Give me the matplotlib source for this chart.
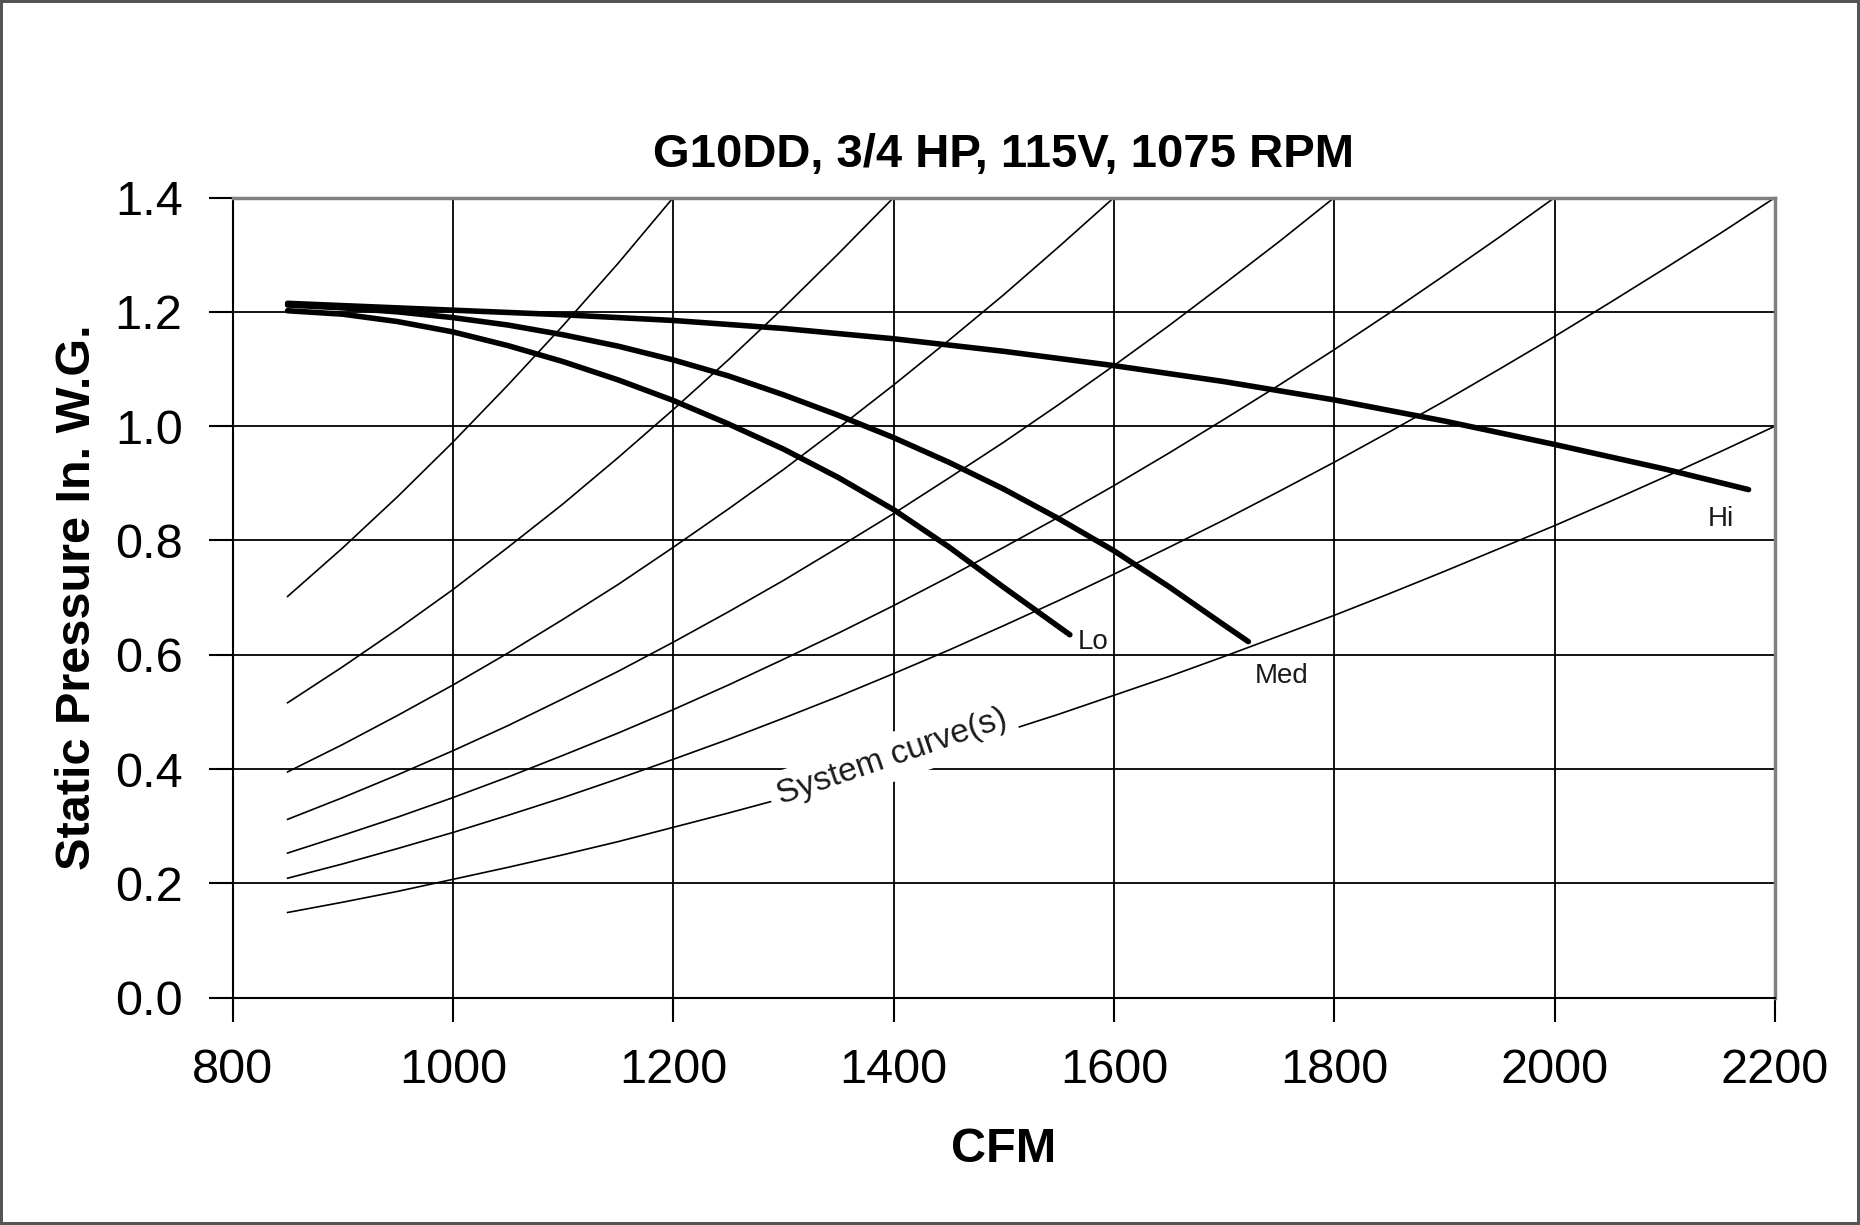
import matplotlib
matplotlib.use("Agg")
import matplotlib.pyplot as plt

plt.rcParams['font.family'] = ['Liberation Sans', 'DejaVu Sans']

# CFM points the system curves were read at (every 50 CFM)
sys_cfm = [850, 900, 950, 1000, 1050, 1100, 1150, 1200, 1250, 1300, 1350, 1400, 1450, 1500,
           1550, 1600, 1650, 1700, 1750, 1800, 1850, 1900, 1950, 2000, 2050, 2100, 2150, 2200]

# system curves (static pressure, in. W.G.), each read until it leaves the top of the chart
sys_1 = [0.702, 0.787, 0.877, 0.972, 1.072, 1.176, 1.285, 1.400]
sys_2 = [0.516, 0.579, 0.645, 0.714, 0.788, 0.864, 0.945, 1.029, 1.116, 1.207, 1.302, 1.400]
sys_3 = [0.395, 0.443, 0.494, 0.547, 0.603, 0.662, 0.723, 0.788, 0.855, 0.924, 0.997, 1.072,
         1.150, 1.230, 1.314, 1.400]
sys_4 = [0.312, 0.350, 0.390, 0.432, 0.476, 0.523, 0.571, 0.622, 0.675, 0.730, 0.788, 0.847,
         0.909, 0.972, 1.038, 1.106, 1.176, 1.249, 1.323, 1.400]
sys_5 = [0.253, 0.284, 0.316, 0.350, 0.386, 0.424, 0.463, 0.504, 0.547, 0.592, 0.638, 0.686,
         0.736, 0.788, 0.841, 0.896, 0.953, 1.012, 1.072, 1.134, 1.198, 1.264, 1.331, 1.400]
sys_6 = [0.209, 0.234, 0.261, 0.289, 0.319, 0.350, 0.383, 0.417, 0.452, 0.489, 0.527, 0.567,
         0.608, 0.651, 0.695, 0.741, 0.788, 0.836, 0.886, 0.937, 0.990, 1.044, 1.100, 1.157,
         1.216, 1.276, 1.337, 1.400]
sys_7 = [0.149, 0.167, 0.186, 0.207, 0.228, 0.250, 0.273, 0.298, 0.323, 0.349, 0.377, 0.405,
         0.434, 0.465, 0.496, 0.529, 0.562, 0.597, 0.633, 0.669, 0.707, 0.746, 0.786, 0.826,
         0.868, 0.911, 0.955, 1.000]
system_curves = [sys_1, sys_2, sys_3, sys_4, sys_5, sys_6, sys_7]

# blower curves
hi_cfm = [850, 900, 1000, 1100, 1200, 1300, 1400, 1500, 1600, 1700, 1800, 1900, 2000, 2100, 2176]
hi_sp = [1.215, 1.211, 1.203, 1.195, 1.185, 1.171, 1.153, 1.131, 1.106, 1.078, 1.046, 1.009,
         0.968, 0.925, 0.889]
med_cfm = [850, 900, 950, 1000, 1050, 1100, 1150, 1200, 1250, 1300, 1350, 1400, 1450, 1500,
           1550, 1600, 1650, 1700, 1722]
med_sp = [1.212, 1.207, 1.200, 1.190, 1.177, 1.160, 1.140, 1.116, 1.088, 1.055, 1.019, 0.980,
          0.937, 0.890, 0.838, 0.782, 0.719, 0.652, 0.623]
lo_cfm = [850, 900, 950, 1000, 1050, 1100, 1150, 1200, 1250, 1300, 1350, 1400, 1450, 1500, 1560]
lo_sp = [1.202, 1.196, 1.183, 1.165, 1.141, 1.113, 1.081, 1.045, 1.004, 0.960, 0.910, 0.854,
         0.789, 0.718, 0.635]

x_ticks = [800, 1000, 1200, 1400, 1600, 1800, 2000, 2200]
y_ticks = [0.0, 0.2, 0.4, 0.6, 0.8, 1.0, 1.2, 1.4]

fig = plt.figure(figsize=(18.6, 12.25), dpi=100)
fig.patch.set_edgecolor('#555555')
fig.patch.set_linewidth(3)
ax = fig.add_axes([0.125, 0.1856, 0.8293, 0.6531])

for sp in system_curves:
    ax.plot(sys_cfm[:len(sp)], sp, color='black', lw=1.2, zorder=2)

for q, p in [(lo_cfm, lo_sp), (med_cfm, med_sp), (hi_cfm, hi_sp)]:
    ax.plot(q, p, color='black', lw=4, solid_capstyle='round', solid_joinstyle='round', zorder=3)

ax.text(1567, 0.610, 'Lo', fontsize=20, color='#1a1a1a', ha='left', va='baseline')
ax.text(1728, 0.551, 'Med', fontsize=20, color='#1a1a1a', ha='left', va='baseline')
ax.text(2139, 0.826, 'Hi', fontsize=20, color='#1a1a1a', ha='left', va='baseline')
ax.text(1399, 0.421, 'System curve(s)', fontsize=24, color='#1a1a1a', rotation=19,
        rotation_mode='anchor', ha='center', va='center', zorder=5,
        bbox=dict(facecolor='white', edgecolor='none', pad=6))

ax.set_xlim(800, 2200)
ax.set_ylim(0, 1.4)
ax.set_xticks(x_ticks)
ax.set_yticks(y_ticks)
ax.set_yticklabels([f'{v:.1f}' for v in y_ticks])
ax.tick_params(direction='out', length=17, width=1.5, pad=19, labelsize=35)
ax.grid(True, color='black', linewidth=1.3)
ax.set_axisbelow(True)

for side in ['left', 'bottom']:
    ax.spines[side].set_color('black')
    ax.spines[side].set_linewidth(1.5)
for side in ['top', 'right']:
    ax.spines[side].set_color('#808080')
    ax.spines[side].set_linewidth(2.5)

ax.set_title('G10DD, 3/4 HP, 115V, 1075 RPM', fontsize=34, fontweight='bold', pad=22)
ax.set_xlabel('CFM', fontsize=35, fontweight='bold')
ax.set_ylabel('Static Pressure In. W.G.', fontsize=35, fontweight='bold')
ax.xaxis.set_label_coords(0.5, -0.162)
ax.yaxis.set_label_coords(-0.086, 0.5)

fig.savefig('out.png', dpi=100)
